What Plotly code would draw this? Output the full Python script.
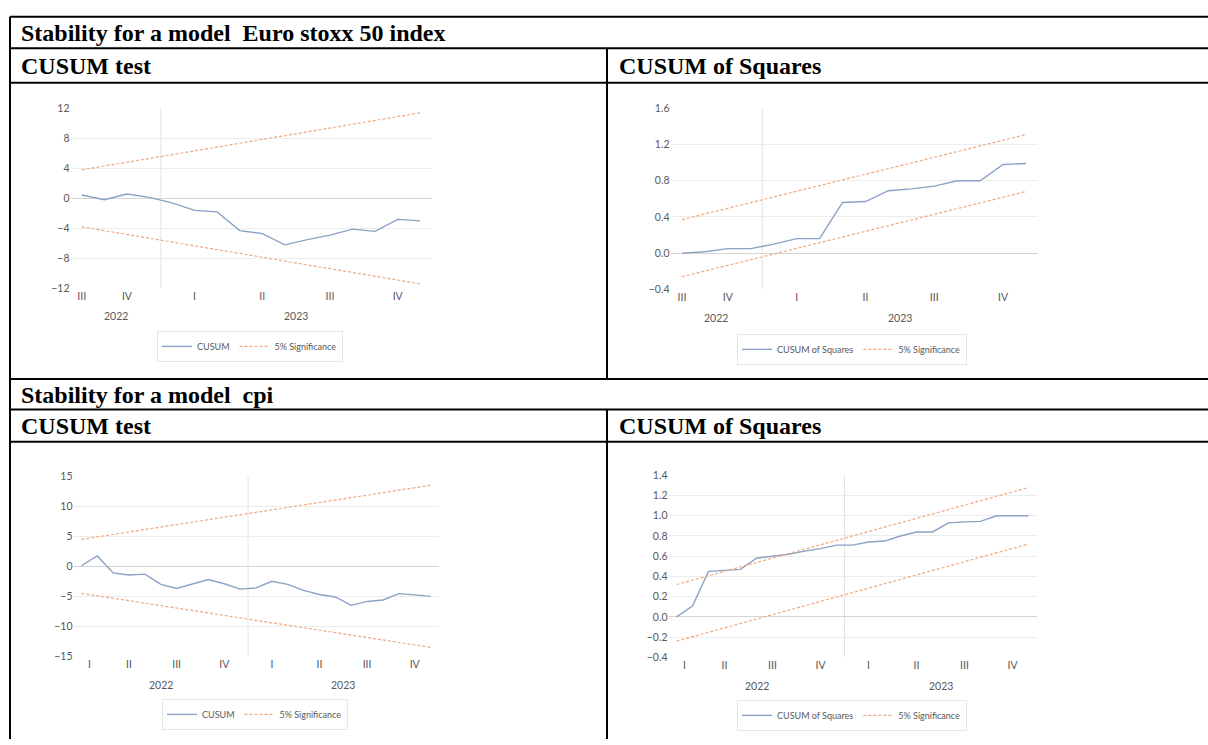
import plotly.graph_objects as go

W, H = 1208, 745

# ---------------- data ----------------
ES_MONTHS = ["2022-09", "2022-10", "2022-11", "2022-12", "2023-01", "2023-02",
             "2023-03", "2023-04", "2023-05", "2023-06", "2023-07", "2023-08",
             "2023-09", "2023-10", "2023-11", "2023-12"]
ES_CUSUM = [0.44, -0.18, 0.57, 0.13, -0.6, -1.6, -1.8, -4.3, -4.7, -6.2,
            -5.5, -4.9, -4.1, -4.4, -2.8, -3.0]
ES_CUSUM_UPPER = [3.8, 11.4]      # first / last month
ES_CUSUM_LOWER = [-3.8, -11.4]
ES_CUSUMSQ = [0.0, 0.015, 0.05, 0.05, 0.10, 0.16, 0.16, 0.56, 0.57, 0.69,
              0.71, 0.74, 0.80, 0.80, 0.98, 0.99]
ES_SQ_UPPER = [0.37, 1.31]
ES_SQ_LOWER = [-0.26, 0.68]

CPI_MONTHS = ["2022-02", "2022-03", "2022-04", "2022-05", "2022-06", "2022-07",
              "2022-08", "2022-09", "2022-10", "2022-11", "2022-12", "2023-01",
              "2023-02", "2023-03", "2023-04", "2023-05", "2023-06", "2023-07",
              "2023-08", "2023-09", "2023-10", "2023-11", "2023-12"]
CPI_CUSUM = [0.1, 1.73, -1.1, -1.45, -1.3, -3.0, -3.7, -2.9, -2.2, -2.9,
             -3.8, -3.6, -2.5, -3.0, -4.0, -4.7, -5.1, -6.5, -5.85, -5.6,
             -4.55, -4.75, -5.0]
CPI_CUSUM_UPPER = [4.5, 13.5]
CPI_CUSUM_LOWER = [-4.5, -13.5]
CPI_CUSUMSQ = [0.0, 0.107, 0.45, 0.46, 0.47, 0.58, 0.60, 0.62, 0.65, 0.675,
               0.71, 0.71, 0.74, 0.75, 0.80, 0.84, 0.84, 0.93, 0.94, 0.945,
               1.0, 1.0, 1.0]
CPI_SQ_UPPER = [0.32, 1.28]
CPI_SQ_LOWER = [-0.24, 0.72]

ROMAN = {1: "I", 2: "II", 3: "III", 4: "IV"}

TITLE_1 = "Stability for a model\u00a0 Euro stoxx 50 index"
TITLE_2 = "Stability for a model\u00a0 cpi"
COL_L = "CUSUM test"
COL_R = "CUSUM of Squares"

# ---------------- style ----------------
BLUE = "#8aa2c4"
ORANGE = "#f0a97c"
GRID = "#ececec"
ZERO = "#d4d4d4"
TXT = "#595959"
CFONT = "Lato"
SERIF = "Liberation Serif"


def px(x):
    return x / W


def py(y):
    return 1 - y / H


def groups(months):
    qs, ys = {}, {}
    for i, m in enumerate(months):
        yr, mo = m.split("-")
        q = (int(mo) - 1) // 3 + 1
        qs.setdefault((yr, q), []).append(i)
        ys.setdefault(yr, []).append(i)
    qpos = [sum(v) / len(v) for v in qs.values()]
    qtxt = [ROMAN[k[1]] for k in qs.keys()]
    ypos = [sum(v) / len(v) for v in ys.values()]
    ytxt = list(ys.keys())
    boundary = [v[0] - 0.5 for v in list(ys.values())[1:]]
    return qpos, qtxt, ypos, ytxt, boundary


panels = [
    dict(months=ES_MONTHS, series=ES_CUSUM, name="CUSUM",
         up=ES_CUSUM_UPPER, lo=ES_CUSUM_LOWER, yr=[-12, 12], dt=4, fmt="d",
         box=(70.5, 431.5, 104, 287), year_y=315, leg=(250, 346)),
    dict(months=ES_MONTHS, series=ES_CUSUMSQ, name="CUSUM of Squares",
         up=ES_SQ_UPPER, lo=ES_SQ_LOWER, yr=[-0.4, 1.6], dt=0.4, fmt=".1f",
         box=(670.5, 1037.5, 104, 288), year_y=317, leg=(852, 349)),
    dict(months=CPI_MONTHS, series=CPI_CUSUM, name="CUSUM",
         up=CPI_CUSUM_UPPER, lo=CPI_CUSUM_LOWER, yr=[-15, 15], dt=5, fmt="d",
         box=(73.5, 438.5, 478, 661), year_y=690, leg=(255, 720)),
    dict(months=CPI_MONTHS, series=CPI_CUSUMSQ, name="CUSUM of Squares",
         up=CPI_SQ_UPPER, lo=CPI_SQ_LOWER, yr=[-0.4, 1.4], dt=0.2, fmt=".1f",
         box=(668.5, 1036.5, 477, 662), year_y=691, leg=(852, 721)),
]

fig = go.Figure()
layout = dict(width=W, height=H, autosize=False,
              margin=dict(l=0, r=0, t=0, b=0),
              paper_bgcolor="white", plot_bgcolor="white",
              font=dict(family=CFONT, color=TXT, size=10))
annotations = []
shapes = []

for k, p in enumerate(panels, start=1):
    sfx = "" if k == 1 else str(k)
    xa, ya = "x" + sfx, "y" + sfx
    legname = "legend" + sfx
    n = len(p["months"])
    idx = list(range(n))
    qpos, qtxt, ypos, ytxt, boundary = groups(p["months"])
    x0, x1, y0, y1 = p["box"]

    fig.add_trace(go.Scatter(x=idx, y=p["series"], mode="lines", name=p["name"],
                             line=dict(color=BLUE, width=1.4),
                             xaxis=xa, yaxis=ya, legend=legname))
    fig.add_trace(go.Scatter(x=[idx[0], idx[-1]], y=p["up"], mode="lines",
                             name="5% Significance", legendgroup="sig" + sfx,
                             line=dict(color=ORANGE, width=1.2, dash="3px,2px"),
                             xaxis=xa, yaxis=ya, legend=legname))
    fig.add_trace(go.Scatter(x=[idx[0], idx[-1]], y=p["lo"], mode="lines",
                             name="5% Significance", legendgroup="sig" + sfx,
                             showlegend=False,
                             line=dict(color=ORANGE, width=1.2, dash="3px,2px"),
                             xaxis=xa, yaxis=ya, legend=legname))

    layout["xaxis" + sfx] = dict(domain=[px(x0), px(x1)], anchor=ya,
                                 range=[-0.5, n - 0.5], showgrid=False,
                                 zeroline=False, showline=False, ticks="",
                                 tickmode="array", tickvals=qpos, ticktext=qtxt,
                                 tickfont=dict(size=10.5, color=TXT, family=CFONT),
                                 fixedrange=True)
    layout["yaxis" + sfx] = dict(domain=[py(y1), py(y0)], anchor=xa,
                                 range=p["yr"], dtick=p["dt"], tick0=0,
                                 tickformat=p["fmt"], showgrid=True,
                                 gridcolor=GRID, gridwidth=1, zeroline=True,
                                 zerolinecolor=ZERO, zerolinewidth=1,
                                 showline=False, ticks="",
                                 tickfont=dict(size=10.5, color=TXT, family=CFONT),
                                 fixedrange=True)
    layout[legname] = dict(x=px(p["leg"][0]), y=py(p["leg"][1]),
                           xanchor="center", yanchor="middle",
                           orientation="h", bgcolor="white",
                           bordercolor="#e6e6e6", borderwidth=1,
                           font=dict(size=9, color=TXT, family=CFONT),
                           itemwidth=30, tracegroupgap=0)
    for xb in boundary:
        shapes.append(dict(type="line", xref=xa, yref=ya + " domain",
                           x0=xb, x1=xb, y0=0, y1=1,
                           line=dict(color="#e4e4e4", width=1), layer="below"))
    for xpos, t in zip(ypos, ytxt):
        annotations.append(dict(x=xpos, y=py(p["year_y"]), xref=xa, yref="paper",
                                text=t, showarrow=False, xanchor="center",
                                yanchor="middle",
                                font=dict(size=10.5, color=TXT, family=CFONT)))

# ---------------- table grid ----------------
LW = 2
for yline in [11, 43, 78, 379, 410, 443]:
    shapes.append(dict(type="line", xref="paper", yref="paper",
                       x0=px(10), x1=1, y0=py(yline), y1=py(yline),
                       line=dict(color="black", width=LW)))
shapes.append(dict(type="line", xref="paper", yref="paper",
                   x0=px(10), x1=px(10), y0=py(11), y1=0,
                   line=dict(color="black", width=LW)))
for ya0, ya1 in [(43, 379), (410, H)]:
    shapes.append(dict(type="line", xref="paper", yref="paper",
                       x0=px(607), x1=px(607), y0=py(ya0), y1=py(ya1),
                       line=dict(color="black", width=LW)))


def head(text, x, y):
    annotations.append(dict(x=px(x), y=py(y), xref="paper", yref="paper",
                            text="<b>" + text + "</b>", showarrow=False,
                            xanchor="left", yanchor="middle",
                            font=dict(family=SERIF, size=24, color="black")))


head(TITLE_1, 19, 27.5)
head(COL_L, 19, 61)
head(COL_R, 617, 61)
head(TITLE_2, 19, 395)
head(COL_L, 19, 427)
head(COL_R, 617, 427)

layout["annotations"] = annotations
layout["shapes"] = shapes
fig.update_layout(**layout)
fig.write_html("out.html", config={"displayModeBar": False},
               post_script="document.body.style.margin='0';")
